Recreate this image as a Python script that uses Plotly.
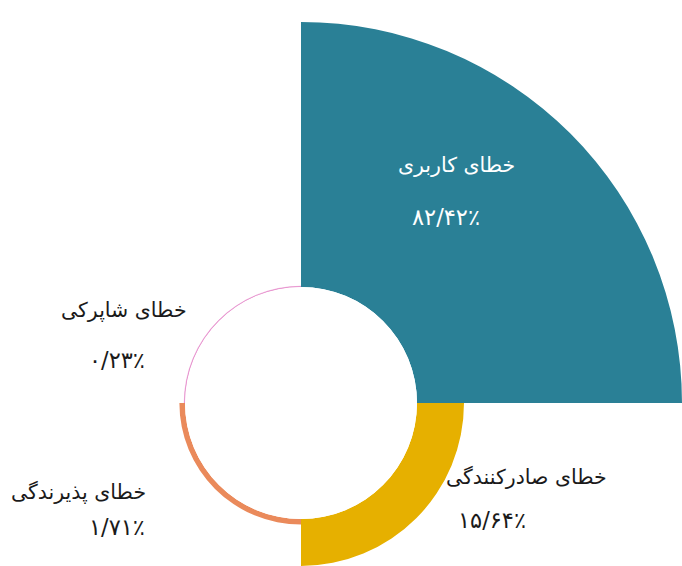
import plotly.graph_objects as go

# ---- data ----
categories = ["خطای کاربری", "خطای شاپرکی", "خطای پذیرندگی", "خطای صادرکنندگی"]
values = [82.42, 0.23, 1.71, 15.64]
angles = [45, 135, 225, 315]          # centre angle of each 90° sector
colors = ["#2a8096", "#e58ccb", "#ea8a5b", "#e6b000"]

W, H = 682, 566
CX, CY = 301, 403          # centre of the rose (px)
HOLE = 116                 # inner radius (px)
SCALE = 3.28               # px per percent


def fa_digits(v):
    s = f"{v:.2f}".replace(".", "/")
    return s.translate(str.maketrans("0123456789", "۰۱۲۳۴۵۶۷۸۹")) + "٪"


fig = go.Figure()

# big sector on its own quarter-polar so it can reach the edge of the page
R1 = W - CX
fig.add_trace(go.Barpolar(
    r=[values[0]], theta=[angles[0]], width=[90],
    marker=dict(color=colors[0], line=dict(width=0)),
    subplot="polar", hoverinfo="skip"))

# remaining sectors on a 270° polar sharing the same centre and scale
R2 = H - CY
fig.add_trace(go.Barpolar(
    r=values[1:], theta=angles[1:], width=[90, 90, 90],
    marker=dict(color=colors[1:], line=dict(color=colors[1:], width=[0.6, 0, 0])),
    subplot="polar2", hoverinfo="skip"))

hidden = dict(visible=False, showgrid=False, showline=False, showticklabels=False, ticks="")

fig.update_layout(
    width=W, height=H, margin=dict(l=0, r=0, t=0, b=0),
    paper_bgcolor="white", showlegend=False,
    polar=dict(
        domain=dict(x=[CX / W, 1], y=[1 - CY / H, 1 - (CY - R1) / H]),
        sector=[0, 90], hole=HOLE / R1, bgcolor="rgba(0,0,0,0)",
        radialaxis=dict(range=[0, (R1 - HOLE) / SCALE], **hidden),
        angularaxis=dict(rotation=0, direction="counterclockwise", **hidden)),
    polar2=dict(
        domain=dict(x=[(CX - R2) / W, (CX + R2) / W], y=[0, 1 - (CY - R2) / H]),
        sector=[90, 360], hole=HOLE / R2, bgcolor="rgba(0,0,0,0)",
        radialaxis=dict(range=[0, (R2 - HOLE) / SCALE], **hidden),
        angularaxis=dict(rotation=0, direction="counterclockwise", **hidden)),
)

# labels: (name position, value position) in px, and text colour
label_pos = [((456, 165), (446, 217), "white"),
             ((124, 310), (117, 360), "#1a1a1a"),
             ((78, 492), (117, 527), "#1a1a1a"),
             ((526, 477), (492, 520), "#1a1a1a")]
for name, val, (npos, vpos, col) in zip(categories, values, label_pos):
    for txt, (px, py), size in ((name, npos, 20.5), (fa_digits(val), vpos, 22.5)):
        fig.add_annotation(x=px / W, y=1 - py / H, xref="paper", yref="paper",
                           xanchor="center", yanchor="middle",
                           text=txt, showarrow=False,
                           font=dict(family="DejaVu Sans", size=size, color=col))

fig.write_html("out.html", config={"displayModeBar": False},
               post_script="document.body.style.margin='0';")
